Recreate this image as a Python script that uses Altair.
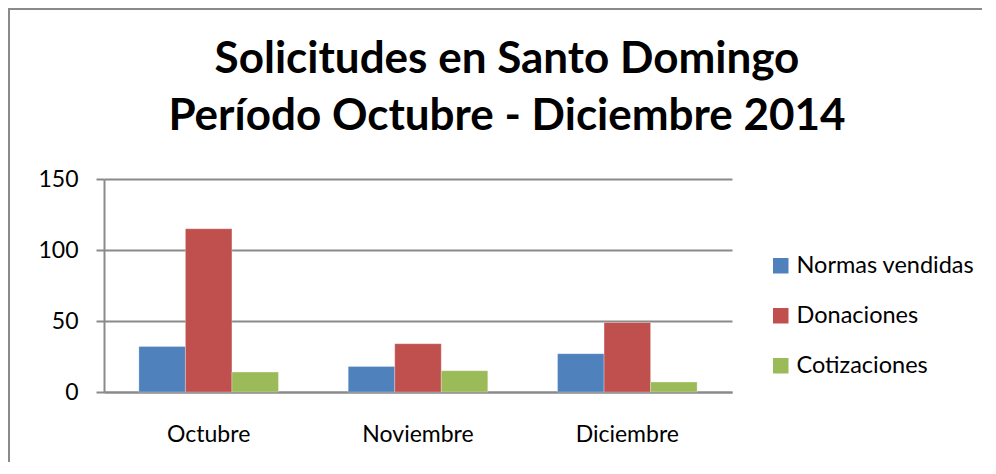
import altair as alt
import pandas as pd

meses = ["Octubre", "Noviembre", "Diciembre"]
series = ["Normas vendidas", "Donaciones", "Cotizaciones"]
normas = [32, 18, 27]
donaciones = [115, 34, 49]
cotizaciones = [14, 15, 7]
colores = ["#4F81BD", "#C0504D", "#9BBB59"]
y_ticks = [0, 50, 100, 150]
titulo = ["Solicitudes en Santo Domingo", "Período Octubre - Diciembre 2014"]

rows = []
for s, vals in zip(series, [normas, donaciones, cotizaciones]):
    for m, v in zip(meses, vals):
        rows.append({"Mes": m, "Serie": s, "Valor": v})
df = pd.DataFrame(rows)

FONT = "Lato"
GRID = "#8a8a8a"

bars = alt.Chart(df).mark_bar(stroke="#ffffff", strokeOpacity=0.35, strokeWidth=0.8).encode(
    x=alt.X("Mes:N", sort=meses, title=None,
            scale=alt.Scale(paddingInner=1/3, paddingOuter=1/6),
            axis=alt.Axis(labelAngle=0, labelFont=FONT, labelFontSize=23, labelColor="#000000",
                          ticks=False, tickSize=0, labelPadding=31, domainColor=GRID,
                          domainWidth=2, grid=False)),
    xOffset=alt.XOffset("Serie:N", sort=series, scale=alt.Scale(paddingInner=0, paddingOuter=0)),
    y=alt.Y("Valor:Q", title=None,
            scale=alt.Scale(domain=[0, 150], nice=False),
            axis=alt.Axis(values=y_ticks, labelFont=FONT, labelFontSize=23, labelColor="#000000",
                          tickSize=8, tickColor=GRID, tickWidth=2, labelPadding=18,
                          domainColor=GRID, domainWidth=2, gridColor=GRID, gridWidth=2)),
    color=alt.Color("Serie:N", sort=series,
                    scale=alt.Scale(domain=series, range=colores),
                    legend=alt.Legend(title=None, orient="none", legendX=665, legendY=75,
                                      symbolType="square", symbolSize=240, symbolStrokeWidth=0,
                                      labelFont=FONT, labelFontSize=23.5, labelColor="#000000",
                                      labelOffset=4, labelLimit=400, rowPadding=25, padding=0)),
)

border_df = pd.DataFrame({"k": [0]})
left_border = alt.Chart(border_df).mark_rule(color="#8a8a8a", strokeWidth=2).encode(
    x=alt.value(-95), y=alt.value(-170), y2=alt.value(400))
top_border = alt.Chart(border_df).mark_rule(color="#8a8a8a", strokeWidth=2).encode(
    x=alt.value(-96), x2=alt.value(900), y=alt.value(-170))

chart = alt.layer(bars, left_border, top_border).properties(
    width=628, height=213,
    autosize=alt.AutoSizeParams(type="none"),
    padding={"left": 96, "top": 171, "right": 250, "bottom": 70},
    title=alt.Title(titulo, font=FONT, fontSize=44, fontWeight="bold", color="#000000",
                    anchor="middle", lineHeight=57, offset=-131, dx=89),
).configure_view(stroke=None)

chart.save("out.html", embed_options={"renderer": "svg", "actions": False})
